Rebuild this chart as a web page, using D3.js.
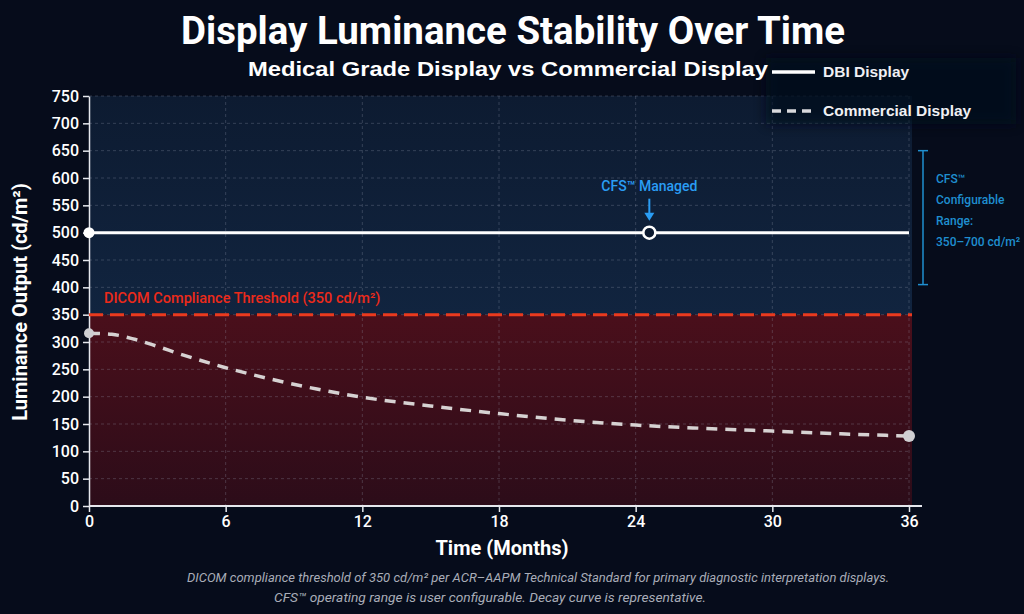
<!DOCTYPE html>
<html>
<head>
<meta charset="utf-8">
<script src="https://cdn.jsdelivr.net/npm/d3@7"></script>
<style>
  body { margin: 0; background: #060c1b; }
  svg { display: block; }
</style>
</head>
<body>
<svg width="1024" height="614"></svg>
<script>
// data
const months = [0, 1, 2, 3, 4, 6, 8, 10, 12, 15, 18, 21, 24, 27, 30, 33, 36];
const commercial = [316, 314, 305, 292, 278, 253, 232, 214, 199, 183, 169, 157, 148, 142, 137, 132, 128];
const dbiMonths = [0, 36];
const dbiValues = [500, 500];
const threshold = 350;
const cfsRange = [405, 650];
const managedPoint = { month: 24.6, value: 500 };
const xTicks = [0, 6, 12, 18, 24, 30, 36];
const yTicks = d3.range(0, 751, 50);

const svg = d3.select("svg");
const margin = { left: 89, right: 115, top: 96, bottom: 108 };
const width = +svg.attr("width");
const height = +svg.attr("height");

const x = d3.scaleLinear().domain([0, 36]).range([margin.left, width - margin.right]);
const y = d3.scaleLinear().domain([0, 750]).range([height - margin.bottom, margin.top]);

const defs = svg.append("defs");
const redGrad = defs.append("linearGradient").attr("id", "redGrad")
    .attr("x1", 0).attr("y1", 0).attr("x2", 0).attr("y2", 1);
redGrad.append("stop").attr("offset", "0%").attr("stop-color", "#4a0f1b");
redGrad.append("stop").attr("offset", "100%").attr("stop-color", "#2c0c19");
const blueGrad = defs.append("linearGradient").attr("id", "blueGrad")
    .attr("x1", 0).attr("y1", 0).attr("x2", 0).attr("y2", 1);
blueGrad.append("stop").attr("offset", "0%").attr("stop-color", "#0d1b31");
blueGrad.append("stop").attr("offset", "100%").attr("stop-color", "#11243f");
defs.append("filter").attr("id", "soft")
    .attr("x", "-20%").attr("y", "-40%").attr("width", "140%").attr("height", "180%")
    .append("feGaussianBlur").attr("stdDeviation", 6);

// zones
svg.append("rect")
    .attr("x", x(0)).attr("y", y(750))
    .attr("width", x(36) - x(0) + 3).attr("height", y(threshold) - y(750))
    .attr("fill", "url(#blueGrad)");
svg.append("rect")
    .attr("x", x(0)).attr("y", y(threshold))
    .attr("width", x(36) - x(0) + 3).attr("height", y(0) - y(threshold))
    .attr("fill", "url(#redGrad)");

// grid
svg.append("g").selectAll("line").data(yTicks.filter(d => d > 0)).join("line")
    .attr("x1", x(0)).attr("x2", x(36))
    .attr("y1", d => y(d)).attr("y2", d => y(d))
    .attr("stroke", "#9aa3b5").attr("stroke-opacity", 0.28)
    .attr("stroke-dasharray", "3,3");
svg.append("g").selectAll("line").data(xTicks.filter(d => d > 0)).join("line")
    .attr("x1", d => x(d)).attr("x2", d => x(d))
    .attr("y1", y(750)).attr("y2", y(0))
    .attr("stroke", "#9aa3b5").attr("stroke-opacity", 0.28)
    .attr("stroke-dasharray", "3,3");

// legend backdrop (softly covers top-right of the plot)
svg.append("rect")
    .attr("x", 766).attr("y", 58).attr("width", 250).attr("height", 66)
    .attr("fill", "#060c1b").attr("opacity", 0.75)
    .attr("filter", "url(#soft)");

// axes
const xAxis = svg.append("g")
    .attr("transform", `translate(0,${y(0)})`)
    .call(d3.axisBottom(x).tickValues(xTicks).tickSize(6).tickSizeOuter(0).tickPadding(4));
xAxis.select(".domain").attr("stroke", "#e6e8ee").attr("stroke-width", 2)
    .attr("d", `M${x(0)},0H${x(36) + 13}`);
xAxis.selectAll(".tick line").attr("stroke", "#e6e8ee").attr("stroke-width", 1.5);
xAxis.selectAll("text").attr("fill", "#fff")
    .style("font", "500 16px Roboto, sans-serif");

const yAxis = svg.append("g")
    .attr("transform", `translate(${x(0)},0)`)
    .call(d3.axisLeft(y).tickValues(yTicks).tickSize(6).tickSizeOuter(0).tickPadding(4));
yAxis.select(".domain").attr("stroke", "#e6e8ee").attr("stroke-width", 1.5);
yAxis.selectAll(".tick line").attr("stroke", "#e6e8ee").attr("stroke-width", 1.5);
yAxis.selectAll("text").attr("fill", "#fff")
    .style("font", "500 16px Roboto, sans-serif");

// threshold line
svg.append("line")
    .attr("x1", x(0)).attr("x2", x(36) + 3)
    .attr("y1", y(threshold)).attr("y2", y(threshold))
    .attr("stroke", "#ea3a1e").attr("stroke-width", 3)
    .attr("stroke-dasharray", "14,7");
svg.append("text")
    .attr("x", x(0) + 15).attr("y", y(threshold) - 12)
    .attr("fill", "#ec2a1a")
    .style("font", "500 14.5px Roboto, sans-serif")
    .text("DICOM Compliance Threshold (350 cd/m²)");

// commercial decay curve
const line = d3.line().x(d => x(d[0])).y(d => y(d[1])).curve(d3.curveMonotoneX);
const commData = months.map((m, i) => [m, commercial[i]]);
svg.append("path")
    .datum(commData)
    .attr("d", line)
    .attr("fill", "none")
    .attr("stroke", "#d6d2d2").attr("stroke-width", 3.5)
    .attr("stroke-dasharray", "11,8");
svg.selectAll(".commDot")
    .data([commData[0], commData[commData.length - 1]])
    .join("circle")
    .attr("class", "commDot")
    .attr("cx", d => x(d[0])).attr("cy", d => y(d[1]))
    .attr("r", (d, i) => i === 0 ? 5 : 6)
    .attr("fill", "#cfcfd2");

// DBI line
const dbiData = dbiMonths.map((m, i) => [m, dbiValues[i]]);
svg.append("path")
    .datum(dbiData)
    .attr("d", d3.line().x(d => x(d[0])).y(d => y(d[1])))
    .attr("stroke", "#fff").attr("stroke-width", 3).attr("fill", "none");
svg.append("circle")
    .attr("cx", x(0)).attr("cy", y(dbiValues[0])).attr("r", 5.5)
    .attr("fill", "#fff");
svg.append("circle")
    .attr("cx", x(managedPoint.month)).attr("cy", y(managedPoint.value)).attr("r", 6)
    .attr("fill", "#0c1a30").attr("stroke", "#fff").attr("stroke-width", 2.5);

// CFS managed annotation
const blue = "#2a9df4";
svg.append("text")
    .attr("x", x(managedPoint.month)).attr("y", y(managedPoint.value) - 42)
    .attr("text-anchor", "middle").attr("fill", blue)
    .style("font", "500 14px Roboto, sans-serif")
    .text("CFS™ Managed");
svg.append("line")
    .attr("x1", x(managedPoint.month)).attr("x2", x(managedPoint.month))
    .attr("y1", y(managedPoint.value) - 34).attr("y2", y(managedPoint.value) - 18)
    .attr("stroke", blue).attr("stroke-width", 2);
svg.append("path")
    .attr("d", `M${x(managedPoint.month) - 5},${y(managedPoint.value) - 20}L${x(managedPoint.month) + 5},${y(managedPoint.value) - 20}L${x(managedPoint.month)},${y(managedPoint.value) - 12}Z`)
    .attr("fill", blue);

// CFS configurable range bracket
const bx = x(36) + 14;
const bracketColor = "#1f8fd0";
svg.append("line").attr("x1", bx).attr("x2", bx)
    .attr("y1", y(cfsRange[1])).attr("y2", y(cfsRange[0]))
    .attr("stroke", bracketColor).attr("stroke-width", 1.5);
svg.selectAll(".cap").data(cfsRange).join("line")
    .attr("class", "cap")
    .attr("x1", bx - 5).attr("x2", bx + 5)
    .attr("y1", d => y(d)).attr("y2", d => y(d))
    .attr("stroke", bracketColor).attr("stroke-width", 1.5);
const rangeLines = ["CFS™", "Configurable", "Range:", "350–700 cd/m²"];
svg.append("g").selectAll("text").data(rangeLines).join("text")
    .attr("x", bx + 13).attr("y", (d, i) => 183 + i * 21)
    .attr("fill", bracketColor)
    .style("font", "500 12px Roboto, sans-serif")
    .text(d => d);

// titles
svg.append("text")
    .attr("x", 513).attr("y", 44).attr("text-anchor", "middle")
    .attr("fill", "#fff")
    .attr("textLength", 664).attr("lengthAdjust", "spacingAndGlyphs")
    .style("font", "bold 38px Roboto, sans-serif")
    .text("Display Luminance Stability Over Time");
svg.append("text")
    .attr("x", 508).attr("y", 76).attr("text-anchor", "middle")
    .attr("fill", "#fff")
    .attr("textLength", 520).attr("lengthAdjust", "spacingAndGlyphs")
    .style("font", "bold 21px 'Liberation Sans', Arial, sans-serif")
    .text("Medical Grade Display vs Commercial Display");

// legend
const legend = [
    { label: "DBI Display", dash: null, y: 72 },
    { label: "Commercial Display", dash: "9,6", y: 111 }
];
const lg = svg.append("g").selectAll("g").data(legend).join("g");
lg.append("line")
    .attr("x1", 772).attr("x2", 815)
    .attr("y1", d => d.y).attr("y2", d => d.y)
    .attr("stroke", d => d.dash ? "#d8d8dc" : "#fff")
    .attr("stroke-width", 3.5)
    .attr("stroke-dasharray", d => d.dash);
lg.append("text")
    .attr("x", 823).attr("y", d => d.y + 5)
    .attr("fill", "#f0f0f4")
    .style("font", "bold 15.5px 'Liberation Sans', Arial, sans-serif")
    .text(d => d.label);

// axis titles
svg.append("text")
    .attr("x", 502).attr("y", 555).attr("text-anchor", "middle")
    .attr("fill", "#fff")
    .style("font", "bold 20px Roboto, sans-serif")
    .text("Time (Months)");
svg.append("text")
    .attr("transform", "translate(27,302) rotate(-90)")
    .attr("text-anchor", "middle")
    .attr("fill", "#fff")
    .style("font", "bold 20px Roboto, sans-serif")
    .text("Luminance Output (cd/m²)");

// footnote
const notes = [
    { text: "DICOM compliance threshold of 350 cd/m² per ACR–AAPM Technical Standard for primary diagnostic interpretation displays.", x: 187, len: 702, y: 582 },
    { text: "CFS™ operating range is user configurable. Decay curve is representative.", x: 274, len: 432, y: 602 }
];
svg.append("g").selectAll("text").data(notes).join("text")
    .attr("x", d => d.x).attr("y", d => d.y)
    .attr("textLength", d => d.len).attr("lengthAdjust", "spacingAndGlyphs")
    .attr("fill", "#a9adb8")
    .style("font", "italic 12.5px Roboto, sans-serif")
    .text(d => d.text);
</script>
</body>
</html>
